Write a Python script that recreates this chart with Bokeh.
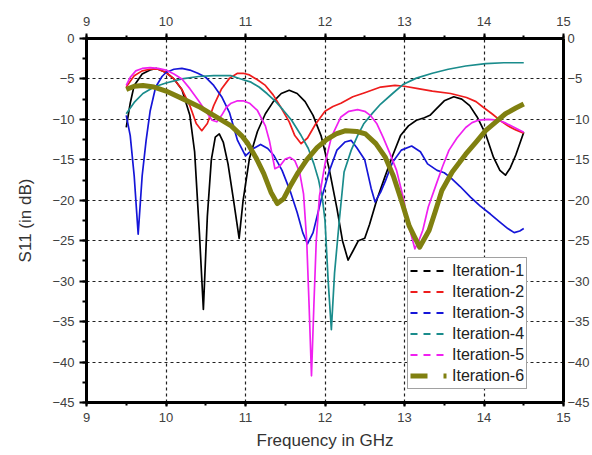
from bokeh.plotting import figure
from bokeh.models import LinearAxis, SingleIntervalTicker, Legend, LegendItem
from bokeh.embed import file_html
from bokeh.resources import INLINE

# ---------------- data ----------------
f1 = [9.5, 9.55, 9.6, 9.7, 9.8, 9.88, 10.0, 10.1, 10.2, 10.3, 10.36, 10.42, 10.47, 10.52, 10.57,
      10.62, 10.67, 10.72, 10.78, 10.85, 10.92, 10.97, 11.05, 11.15, 11.25, 11.35, 11.45, 11.55,
      11.65, 11.75, 11.85, 11.95, 12.05, 12.15, 12.22, 12.29, 12.35, 12.42, 12.5, 12.56, 12.65,
      12.75, 12.85, 12.95, 13.05, 13.15, 13.25, 13.32, 13.4, 13.5, 13.62, 13.72, 13.82, 13.92,
      14.02, 14.12, 14.2, 14.27, 14.33, 14.4, 14.5]
s1 = [-11.0, -8.0, -5.8, -4.4, -3.9, -3.7, -4.2, -5.0, -6.3, -9.5, -14.0, -24.0, -33.5, -22.0, -15.0,
      -12.2, -11.8, -12.8, -15.5, -20.0, -24.7, -20.0, -14.8, -11.5, -9.3, -7.8, -6.8, -6.4,
      -6.8, -7.8, -9.5, -12.0, -16.0, -21.0, -25.0, -27.4, -26.3, -25.0, -24.7, -23.0, -20.0,
      -17.2, -14.5, -12.0, -10.8, -10.1, -9.8, -9.5, -8.7, -7.7, -7.2, -7.5, -8.3, -9.8,
      -11.8, -14.7, -16.3, -16.9, -16.0, -14.4, -11.6]

f2 = [9.5, 9.6, 9.7, 9.8, 9.9, 10.0, 10.1, 10.2, 10.3, 10.38, 10.45, 10.52, 10.6, 10.7, 10.8, 10.9,
      10.97, 11.05, 11.15, 11.25, 11.35, 11.45, 11.55, 11.62, 11.7, 11.78, 11.88, 12.0, 12.1, 12.2,
      12.35, 12.5, 12.7, 12.88, 13.0, 13.17, 13.35, 13.58, 13.78, 13.9, 13.99, 14.1, 14.2, 14.3,
      14.4, 14.5]
s2 = [-6.0, -4.6, -4.0, -3.8, -3.8, -4.2, -5.0, -6.3, -8.3, -10.5, -11.4, -10.5, -8.3, -6.2, -4.9, -4.3,
      -4.3, -4.5, -5.1, -5.8, -7.0, -8.6, -10.3, -12.0, -13.0, -12.3, -10.6, -9.0, -8.4, -8.0,
      -7.2, -6.7, -6.0, -5.8, -5.9, -6.2, -6.5, -6.8, -7.3, -7.8, -8.5, -9.3, -10.1, -10.8,
      -11.3, -11.7]

f3 = [9.5, 9.55, 9.6, 9.65, 9.7, 9.75, 9.8, 9.87, 9.95, 10.0, 10.1, 10.2, 10.3, 10.4, 10.5, 10.6,
      10.7, 10.8, 10.9, 11.0, 11.1, 11.19, 11.28, 11.36, 11.46, 11.56, 11.65, 11.72, 11.78, 11.85,
      11.95, 12.05, 12.15, 12.25, 12.33, 12.4, 12.5, 12.58, 12.63, 12.7, 12.76, 12.85, 12.96,
      13.09, 13.2, 13.29, 13.41, 13.5, 13.58, 13.7, 13.83, 13.95, 14.08, 14.2, 14.3, 14.38,
      14.45, 14.5]
s3 = [-9.5, -12.0, -17.0, -24.2, -17.0, -12.6, -9.0, -6.0, -4.7, -4.2, -3.8, -3.7, -3.9, -4.3, -4.8, -5.8,
      -7.2, -9.2, -12.6, -14.5, -13.6, -13.1, -13.6, -14.5, -16.3, -18.8, -21.5, -24.0, -25.4, -24.0,
      -20.0, -16.5, -13.8, -12.8, -12.6, -13.5, -15.0, -18.5, -20.2, -19.0, -17.6, -15.3, -13.8,
      -13.3, -14.0, -15.5, -16.3, -16.6, -17.2, -18.3, -19.6, -20.7, -21.7, -22.7, -23.5, -24.0,
      -23.8, -23.5]

f4 = [9.5, 9.6, 9.71, 9.85, 10.0, 10.2, 10.41, 10.6, 10.82, 10.97, 11.07, 11.17, 11.27, 11.37, 11.47,
      11.58, 11.7, 11.79, 11.86, 11.92, 11.97, 12.0, 12.04, 12.08, 12.12, 12.18, 12.24, 12.33, 12.41,
      12.49, 12.6, 12.7, 12.85, 12.98, 13.15, 13.35, 13.55, 13.77, 14.02, 14.25, 14.5]
s4 = [-9.3, -7.9, -6.8, -6.0, -5.5, -5.0, -4.7, -4.6, -4.6, -5.1, -5.4, -6.0, -6.8, -7.7, -8.8,
      -10.1, -12.0, -13.6, -15.5, -17.5, -20.0, -22.5, -30.0, -36.0, -29.0, -22.5, -16.5, -13.8, -12.0,
      -10.5, -9.2, -8.1, -6.8, -5.7, -4.9, -4.3, -3.8, -3.4, -3.1, -3.0, -3.0]

f5 = [9.5, 9.55, 9.62, 9.7, 9.8, 9.9, 10.0, 10.1, 10.2, 10.3, 10.41, 10.5, 10.58, 10.64, 10.7, 10.76,
      10.82, 10.9, 10.97, 11.05, 11.15, 11.25, 11.3, 11.37, 11.43, 11.5, 11.56, 11.62, 11.68, 11.73,
      11.77, 11.8, 11.83, 11.86, 11.89, 11.93, 12.0, 12.08, 12.2, 12.3, 12.41, 12.5, 12.57, 12.65,
      12.73, 12.82, 12.9, 12.98, 13.05, 13.13, 13.18, 13.23, 13.3, 13.4, 13.48, 13.56, 13.66, 13.77,
      13.85, 13.93, 14.05, 14.18, 14.26, 14.34, 14.42, 14.5]
s5 = [-5.8, -4.8, -4.0, -3.7, -3.6, -3.7, -3.9, -4.4, -5.0, -6.2, -7.7, -9.0, -10.1, -10.3, -9.5, -8.5,
      -8.0, -7.7, -7.7, -8.0, -8.9, -10.8, -12.6, -16.1, -15.8, -14.9, -14.7, -15.1, -16.5, -19.2,
      -25.0, -33.0, -41.7, -33.0, -25.0, -19.5, -15.5, -12.2, -9.7, -9.0, -8.8, -9.0, -9.5, -10.5,
      -12.2, -14.3, -16.3, -19.5, -23.0, -26.0, -25.0, -23.7, -20.8, -18.0, -15.8, -13.8, -12.3, -11.0,
      -10.4, -10.1, -10.0, -10.1, -10.4, -10.8, -11.2, -11.6]

f6 = [9.5, 9.6, 9.71, 9.85, 10.0, 10.2, 10.41, 10.6, 10.82, 10.95, 11.03, 11.13, 11.23, 11.32, 11.4,
      11.48, 11.56, 11.66, 11.77, 11.9, 12.02, 12.14, 12.26, 12.4, 12.51, 12.64, 12.76, 12.86, 12.96,
      13.06, 13.19, 13.31, 13.39, 13.47, 13.6, 13.77, 13.9, 14.02, 14.15, 14.27, 14.4, 14.5]
s6 = [-6.3, -5.9, -5.8, -6.0, -6.5, -7.4, -8.4, -9.5, -10.8, -12.0, -13.0, -14.7, -16.7, -19.0, -20.4,
      -19.8, -18.3, -16.6, -15.0, -13.5, -12.5, -11.8, -11.4, -11.5, -11.8, -13.0, -14.7, -17.0, -20.0,
      -23.2, -25.8, -23.7, -21.3, -18.8, -16.5, -14.3, -12.8, -11.4, -10.3, -9.3, -8.6, -8.1]

labels = ["Iteration-1", "Iteration-2", "Iteration-3", "Iteration-4", "Iteration-5", "Iteration-6"]
x_ticks_major = 1
y_ticks_major = 5

# ---------------- styling ----------------
colors = ["#000000", "#ee1c1c", "#1515d8", "#1a8c8c", "#f020f0", "#808010"]
widths = [1.7, 1.7, 1.7, 1.7, 1.7, 5]
FONT = "Liberation Sans"
NAN = float("nan")

p = figure(width=592, height=455, x_range=(9, 15), y_range=(-45, 0),
           output_backend="svg", toolbar_location=None,
           min_border_left=86, min_border_top=38, min_border_bottom=53, min_border_right=10)
p.outline_line_color = None
p.background_fill_color = "white"

bottom = p.below[0]
left = p.left[0]
top = LinearAxis()
right = LinearAxis()
p.add_layout(top, "above")
p.add_layout(right, "right")

xt = SingleIntervalTicker(interval=x_ticks_major, num_minor_ticks=2)
yt = SingleIntervalTicker(interval=y_ticks_major, num_minor_ticks=2)
bottom.ticker = xt
top.ticker = xt
left.ticker = yt
right.ticker = yt

for ax in [bottom, left, top, right]:
    ax.axis_line_width = 3
    ax.axis_line_color = "black"
    ax.major_tick_line_width = 2
    ax.minor_tick_line_width = 2
    ax.major_tick_in = 0
    ax.minor_tick_in = 0
    ax.major_label_text_font = FONT
    ax.major_label_text_font_size = "13px"
    ax.major_label_text_color = "#404040"
    ax.axis_label_text_font = FONT
    ax.axis_label_text_font_size = "17px"
    ax.axis_label_text_font_style = "normal"
    ax.axis_label_text_color = "#333333"

bottom.major_tick_out = 4
bottom.minor_tick_out = 3
bottom.major_label_standoff = 6
bottom.axis_label = "Frequency in GHz"
bottom.axis_label_standoff = 6

top.major_tick_out = 5
top.minor_tick_out = 3
top.major_label_standoff = 8

left.major_tick_out = 7
left.minor_tick_out = 4
left.major_label_standoff = 5
left.axis_label = "S11 (in dB)"
left.axis_label_standoff = 14

right.major_tick_out = 0
right.minor_tick_out = 0
right.major_label_standoff = 4

p.xgrid.ticker = xt
p.ygrid.ticker = yt
for g in [p.xgrid, p.ygrid]:
    g.grid_line_color = "#202020"
    g.grid_line_dash = "3 3"
    g.grid_line_width = 1.2

series = [(f1, s1), (f2, s2), (f3, s3), (f4, s4), (f5, s5), (f6, s6)]
for (fx, sy), c, w in zip(series, colors, widths):
    p.line(fx, sy, line_color=c, line_width=w, line_join="round")

items = []
for i, (lab, c) in enumerate(zip(labels, colors)):
    if i < 5:
        r = p.line([NAN], [NAN], line_color=c, line_width=2, line_dash="7 6")
    else:
        r = p.line([NAN], [NAN], line_color=c, line_width=5, line_dash="17 16 3")
    items.append(LegendItem(label=lab, renderers=[r]))

legend = Legend(items=items, location=(321, 13))
legend.border_line_color = "#444444"
legend.border_line_width = 1
legend.background_fill_alpha = 1
legend.label_text_font = FONT
legend.label_text_font_size = "16px"
legend.label_text_color = "#222222"
legend.glyph_width = 38
legend.glyph_height = 21
legend.label_height = 21
legend.label_standoff = 4
legend.spacing = 0
legend.padding = 2
legend.margin = 0
p.add_layout(legend)

open("out.html", "w").write(file_html(p, INLINE))
